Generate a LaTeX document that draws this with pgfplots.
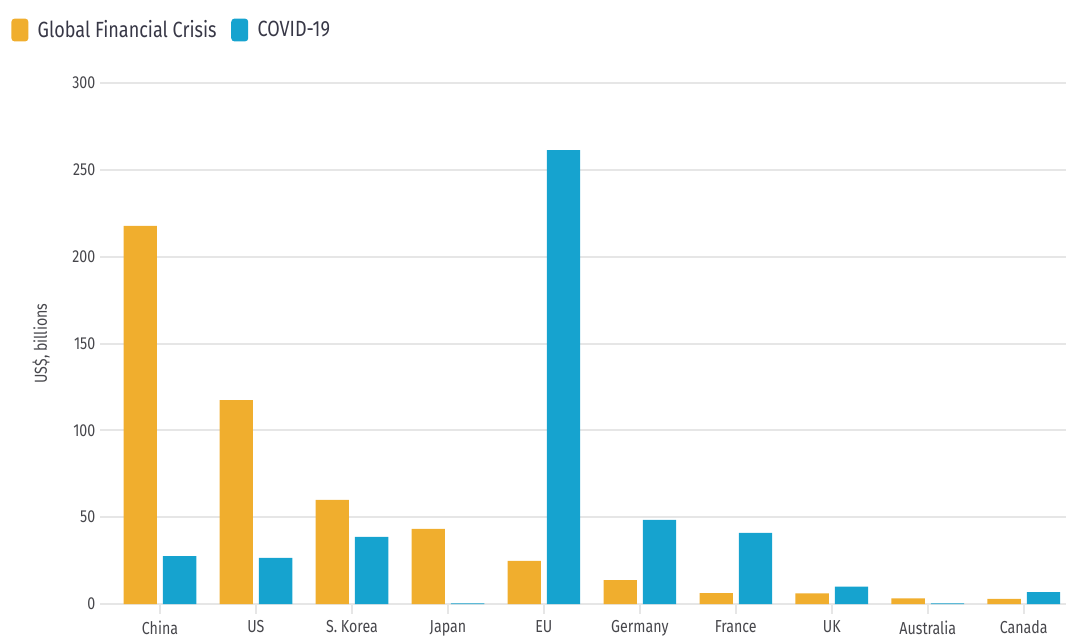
\documentclass[border=0pt]{standalone}
\usepackage{fontspec}
\setmainfont{Fira Sans}[FakeStretch=0.82]
\usepackage{pgfplots}
\pgfplotsset{compat=1.18}
\definecolor{gfc}{RGB}{240,174,46}
\definecolor{cov}{RGB}{22,163,207}
\definecolor{gridc}{RGB}{230,230,230}
\definecolor{txt}{RGB}{70,70,75}
\definecolor{legtxt}{RGB}{55,55,70}
\begin{document}
\begin{tikzpicture}[x=1pt,y=1pt]
\begin{axis}[
  at={(0,0)}, anchor=south west,
  scale only axis, width=724.5pt, height=390.75pt,
  xmin=-0.625, xmax=9.44, ymin=0, ymax=300,
  axis line style={draw=none},
  tick pos=left,
  ytick={0,50,...,300},
  ytick style={draw=none},
  ymajorgrids, grid style={gridc, line width=1.5pt},
  xtick={0,...,9},
  xticklabels={China,US,S. Korea,Japan,EU,Germany,France,UK,Australia,Canada},
  xtick align=outside,
  xtick style={draw=gridc, line width=1.5pt},
  major tick length=7.5pt,
  ticklabel style={font=\fontsize{13pt}{15pt}\selectfont, text=txt},
  xticklabel style={yshift=-1.5pt},
  /pgf/number format/assume math mode=true,
  ylabel={US\$, billions},
  ylabel style={font=\fontsize{13pt}{15pt}\selectfont, text=txt, at={(axis description cs:-0.061,0.5)}, anchor=center},
  ybar=4.5pt, bar width=25pt,
  legend columns=2,
  legend style={draw=none, fill=none, at={(axis description cs:-0.092,1.1017)}, anchor=west,
    font=\fontsize{16.5pt}{19pt}\selectfont, text=legtxt, inner sep=0pt,
    /tikz/every odd column/.append style={column sep=5pt},
    /tikz/every even column/.append style={column sep=9pt}},
  legend image code/.code={\fill[#1, rounded corners=2.5pt] (0pt,-8.6pt) rectangle (12.75pt,8.6pt);},
]
\addplot[fill=gfc, draw=none] coordinates {(0,217.8) (1,117.4) (2,60) (3,43.2) (4,24.8) (5,13.8) (6,6.3) (7,6.1) (8,3.3) (9,2.9)};
\addplot[fill=cov, draw=none] coordinates {(0,27.6) (1,26.5) (2,38.6) (3,0.4) (4,261.4) (5,48.4) (6,40.9) (7,10) (8,0.4) (9,6.8)};
\legend{Global Financial Crisis, COVID-19}
\end{axis}
\pgfresetboundingbox
\useasboundingbox (-75pt,-24.75pt) rectangle (724.5pt,453pt);
\end{tikzpicture}
\end{document}
